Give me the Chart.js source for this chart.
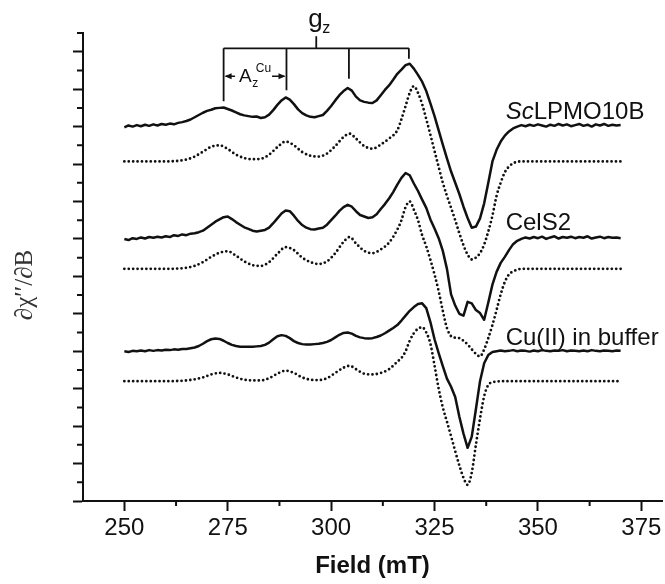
<!DOCTYPE html>
<html>
<head>
<meta charset="utf-8">
<script src="https://cdn.jsdelivr.net/npm/chart.js@4.4.0/dist/chart.umd.min.js"></script>
<style>
  html, body { margin: 0; padding: 0; background: #fff; }
  #chart { display: block; }
</style>
</head>
<body>
<canvas id="chart" width="665" height="584"></canvas>
<script>
// Field axis (mT) for the measured spectra, 1 mT steps
const fieldExp = [
  250, 251, 252, 253, 254, 255, 256, 257, 258, 259,
  260, 261, 262, 263, 264, 265, 266, 267, 268, 269,
  270, 271, 272, 273, 274, 275, 276, 277, 278, 279,
  280, 281, 282, 283, 284, 285, 286, 287, 288, 289,
  290, 291, 292, 293, 294, 295, 296, 297, 298, 299,
  300, 301, 302, 303, 304, 305, 306, 307, 308, 309,
  310, 311, 312, 313, 314, 315, 316, 317, 318, 319,
  320, 321, 322, 323, 324, 325, 326, 327, 328, 329,
  330, 331, 332, 333, 334, 335, 336, 337, 338, 339,
  340, 341, 342, 343, 344, 345, 346, 347, 348, 349,
  350, 351, 352, 353, 354, 355, 356, 357, 358, 359,
  360, 361, 362, 363, 364, 365, 366, 367, 368, 369,
  370
];

// Measured spectra (offset, arbitrary units)
const scExp = [
  9.98, 10.03, 10.0, 10.04, 10.01, 10.05, 10.02, 10.06, 10.03, 10.07,
  10.05, 10.08, 10.06, 10.1, 10.12, 10.15, 10.19, 10.25, 10.31, 10.37,
  10.42, 10.45, 10.49, 10.5, 10.51, 10.47, 10.43, 10.38, 10.33, 10.3,
  10.28, 10.26, 10.27, 10.23, 10.25, 10.32, 10.44, 10.58, 10.7, 10.78,
  10.72, 10.6, 10.46, 10.36, 10.3, 10.26, 10.25, 10.28, 10.31, 10.42,
  10.55, 10.7, 10.84, 10.95, 11.03, 10.96, 10.8, 10.7, 10.66, 10.64,
  10.63, 10.7, 10.84, 10.98, 11.1, 11.25, 11.41, 11.52, 11.64, 11.68,
  11.55, 11.38, 11.2, 10.95, 10.62, 10.28, 9.9, 9.52, 9.15, 8.8,
  8.5, 8.2, 7.86, 7.56, 7.3, 7.33, 7.55, 7.95, 8.5, 9.07,
  9.38, 9.6, 9.76, 9.87, 9.95, 10.0, 10.04, 10.01, 10.05, 10.02,
  10.06, 10.03, 10.0, 10.05, 10.02, 10.07, 10.03, 10.06, 10.01, 10.04,
  10.07, 10.02, 10.05, 10.0, 10.06, 10.03, 10.07, 10.02, 10.05, 10.03,
  10.04
];
const celExp = [
  7.0, 6.97, 7.02, 7.0, 7.04, 7.01, 7.05, 7.03, 7.06, 7.04,
  7.07, 7.05, 7.1, 7.08, 7.12, 7.1, 7.14, 7.15, 7.18, 7.22,
  7.3, 7.38, 7.46, 7.52, 7.58, 7.6, 7.53, 7.45, 7.38, 7.31,
  7.27, 7.22, 7.2, 7.22, 7.24, 7.3, 7.42, 7.55, 7.68, 7.76,
  7.74, 7.62, 7.48, 7.37, 7.3, 7.26, 7.25, 7.28, 7.3, 7.38,
  7.5, 7.62, 7.75, 7.85, 7.91, 7.86, 7.74, 7.64, 7.6, 7.56,
  7.58, 7.66, 7.8, 7.93, 8.08, 8.25, 8.45, 8.63, 8.76, 8.7,
  8.48, 8.28, 8.05, 7.83, 7.52, 7.28, 7.02, 6.68, 6.2, 5.52,
  5.22, 5.0, 4.95, 5.32, 5.28, 5.1, 5.02, 4.84, 5.3, 5.78,
  6.12, 6.36, 6.52, 6.7, 6.86, 6.95, 7.0, 7.04, 7.01, 7.05,
  7.02, 7.06, 7.0, 7.04, 7.07, 7.01, 7.05, 7.03, 7.06, 7.02,
  7.05, 7.03, 7.07, 7.01, 7.04, 7.06, 7.02, 7.05, 7.03, 7.04,
  7.02
];
const cuExp = [
  4.0, 3.98, 4.01, 4.0, 4.02, 4.0, 4.03, 4.01, 4.03, 4.02,
  4.04, 4.03, 4.05, 4.04, 4.06, 4.06, 4.08, 4.1, 4.14, 4.2,
  4.27, 4.32, 4.34, 4.33, 4.28, 4.22, 4.17, 4.14, 4.12, 4.12,
  4.12, 4.12, 4.13, 4.14, 4.17, 4.23, 4.32, 4.4, 4.43, 4.41,
  4.35, 4.27, 4.22, 4.19, 4.18, 4.18, 4.19, 4.2, 4.22, 4.25,
  4.3, 4.37, 4.44, 4.49, 4.5, 4.47, 4.41, 4.37, 4.35, 4.34,
  4.35, 4.38, 4.42, 4.48, 4.55, 4.62, 4.7, 4.82, 4.95, 5.08,
  5.18, 5.26, 5.28, 5.15, 4.78, 4.32, 3.95, 3.6, 3.27, 3.05,
  2.78, 2.25, 1.8, 1.42, 1.72, 2.45, 3.2, 3.68, 3.9, 3.98,
  4.0, 4.02, 4.0, 4.01, 4.03, 4.0, 4.02, 4.01, 3.99, 4.02,
  4.0, 4.03, 4.01, 4.0, 4.02, 4.01, 4.03, 4.0, 4.02, 4.01,
  4.0, 4.02, 4.0, 4.03, 4.01, 4.0, 4.02, 4.01, 4.0, 4.02,
  4.01
];

// Field axis (mT) for the simulated spectra
const fieldSim = [
  250, 260, 265, 267, 269, 271, 273, 275, 277, 279,
  281, 283, 285, 287, 289, 291, 293, 295, 297, 299,
  301, 303, 304.5, 306, 308, 310, 312, 314, 316, 317,
  318, 319, 320, 321, 322, 323, 324, 325, 326, 327,
  328, 329, 330, 331, 332, 333, 334, 335, 336, 337,
  338, 339, 340, 341, 342, 343, 344, 346, 348, 355,
  370
];
const scSim = [
  9.07, 9.07, 9.12, 9.2, 9.33, 9.46, 9.5, 9.4, 9.25, 9.16,
  9.13, 9.14, 9.25, 9.45, 9.6, 9.5, 9.32, 9.22, 9.2, 9.28,
  9.48, 9.72, 9.81, 9.68, 9.48, 9.41, 9.52, 9.68, 9.9, 10.2,
  10.55, 10.9, 11.08, 10.9, 10.6, 10.2, 9.78, 9.35, 8.92, 8.5,
  8.15, 7.83, 7.5, 7.15, 6.83, 6.58, 6.45, 6.5, 6.62, 6.85,
  7.2, 7.62, 8.15, 8.5, 8.78, 8.93, 9.02, 9.07, 9.07, 9.07,
  9.07
];
const celSim = [
  6.2, 6.2, 6.23, 6.28, 6.38, 6.52, 6.63, 6.67, 6.55, 6.4,
  6.3, 6.28, 6.38, 6.6, 6.78, 6.7, 6.5, 6.38, 6.33, 6.4,
  6.62, 6.92, 7.05, 6.88, 6.68, 6.62, 6.72, 6.9, 7.25, 7.5,
  7.85, 8.0, 7.78, 7.5, 7.1, 6.8, 6.44, 6.05, 5.6, 5.08,
  4.62, 4.4, 4.36, 4.35, 4.28, 4.18, 4.05, 3.93, 3.86, 4.05,
  4.35, 4.7, 5.1, 5.52, 5.85, 6.05, 6.13, 6.2, 6.2, 6.2,
  6.2
];
const cuSim = [
  3.2, 3.2, 3.22, 3.25, 3.3, 3.38, 3.42, 3.38, 3.3, 3.24,
  3.22, 3.22, 3.28, 3.4, 3.48, 3.42, 3.3, 3.24, 3.23, 3.28,
  3.42, 3.56, 3.61, 3.52, 3.4, 3.38, 3.42, 3.52, 3.72, 3.82,
  4.0, 4.28, 4.48, 4.6, 4.64, 4.5, 4.2, 3.62, 3.0, 2.5,
  2.12, 1.73, 1.33, 0.95, 0.62, 0.43, 0.76, 1.5, 2.2, 2.8,
  3.1, 3.17, 3.19, 3.2, 3.2, 3.2, 3.2, 3.2, 3.2, 3.2,
  3.2
];

// Axis ticks
const xMajorTicks = [250, 275, 300, 325, 350, 375];
const xMinorTicks = [262.5, 287.5, 312.5, 337.5, 362.5];
const yMajorTicks = [0, 1, 2, 3, 4, 5, 6, 7, 8, 9, 10, 11, 12];
const yMinorTicks = [0.5, 1.5, 2.5, 3.5, 4.5, 5.5, 6.5, 7.5, 8.5, 9.5, 10.5, 11.5, 12.5];

// g_z hyperfine marks (field, lower end of each mark)
const gzFields = [274, 289.2, 304.3, 318.8];
const gzEnds = [10.68, 10.97, 11.28, 11.81];
const gzBarLevel = 12.09;

const ink = "#111";
const sans = "'Liberation Sans', Arial, sans-serif";

function toPoints(xs, ys) {
  return xs.map((x, i) => ({ x: x, y: ys[i] }));
}

function solid(ys) {
  return {
    data: toPoints(fieldExp, ys),
    borderColor: ink,
    borderWidth: 2.5,
    borderJoinStyle: "round",
    pointRadius: 0,
    tension: 0,
    fill: false,
  };
}

function dotted(ys) {
  return {
    data: toPoints(fieldSim, ys),
    borderColor: ink,
    borderWidth: 2.8,
    borderDash: [0, 4.4],
    borderCapStyle: "round",
    pointRadius: 0,
    cubicInterpolationMode: "monotone",
    fill: false,
  };
}

function arrowHead(ctx, x, y, dir) {
  ctx.beginPath();
  ctx.moveTo(x, y);
  ctx.lineTo(x - dir * 7, y - 3);
  ctx.lineTo(x - dir * 7, y + 3);
  ctx.closePath();
  ctx.fill();
}

// Draws minor ticks, axis title and the text annotations
const extras = {
  id: "extras",
  afterDraw(chart) {
    const { ctx, scales: { x, y } } = chart;
    ctx.save();
    ctx.strokeStyle = ink;
    ctx.fillStyle = ink;
    ctx.lineWidth = 2;

    // minor ticks
    ctx.beginPath();
    for (const v of xMinorTicks) {
      const px = x.getPixelForValue(v);
      ctx.moveTo(px, y.bottom);
      ctx.lineTo(px, y.bottom + 5);
    }
    for (const v of yMinorTicks) {
      const py = y.getPixelForValue(v);
      ctx.moveTo(x.left, py);
      ctx.lineTo(x.left - 6, py);
    }
    ctx.stroke();

    // y axis title
    ctx.save();
    ctx.translate(25, (y.top + y.bottom) / 2 + 18);
    ctx.rotate(-Math.PI / 2);
    ctx.font = "25px 'Liberation Serif', 'Times New Roman', serif";
    ctx.fillStyle = "#333";
    ctx.textAlign = "center";
    ctx.textBaseline = "middle";
    ctx.fillText("\u2202\u03C7\u2032\u2032/\u2202B", 0, 0);
    ctx.restore();

    // g_z bracket
    const barY = y.getPixelForValue(gzBarLevel);
    const gx = gzFields.map(v => x.getPixelForValue(v));
    ctx.lineWidth = 1.8;
    ctx.beginPath();
    ctx.moveTo(gx[0], barY);
    ctx.lineTo(gx[gx.length - 1], barY);
    gx.forEach((px, i) => {
      ctx.moveTo(px, barY);
      ctx.lineTo(px, y.getPixelForValue(gzEnds[i]));
    });
    const mid = (gx[0] + gx[gx.length - 1]) / 2;
    ctx.moveTo(mid, barY);
    ctx.lineTo(mid, barY - 12);
    ctx.stroke();

    ctx.textBaseline = "alphabetic";
    ctx.textAlign = "left";
    ctx.font = "26px " + sans;
    ctx.fillText("g", mid - 8, barY - 21);
    ctx.font = "16px " + sans;
    ctx.fillText("z", mid + 6, barY - 15);

    // A_z^Cu with arrows between first two marks
    const ay = barY + 28;
    ctx.font = "19px " + sans;
    const wA = ctx.measureText("A").width;
    ctx.font = "12px " + sans;
    const wCu = ctx.measureText("Cu").width;
    const textW = wA + 4 + wCu;
    const tx = (gx[0] + gx[1]) / 2 - textW / 2;
    ctx.font = "19px " + sans;
    ctx.fillText("A", tx, ay + 6);
    ctx.font = "12px " + sans;
    ctx.fillText("z", tx + wA + 0.5, ay + 11);
    ctx.fillText("Cu", tx + wA + 4, ay - 4);
    ctx.lineWidth = 1.5;
    ctx.beginPath();
    ctx.moveTo(gx[0] + 2, ay);
    ctx.lineTo(tx - 4, ay);
    ctx.moveTo(tx + textW + 1, ay);
    ctx.lineTo(gx[1] - 2, ay);
    ctx.stroke();
    arrowHead(ctx, gx[0] + 1, ay, -1);
    arrowHead(ctx, gx[1] - 1, ay, 1);

    // curve labels
    const lx = x.getPixelForValue(342.2);
    const ly = y.getPixelForValue(10.21);
    ctx.font = "italic 24px " + sans;
    ctx.fillText("Sc", lx, ly);
    const wSc = ctx.measureText("Sc").width;
    ctx.font = "24px " + sans;
    ctx.fillText("LPMO10B", lx + wSc, ly);
    ctx.fillText("CelS2", lx, y.getPixelForValue(7.25));
    ctx.fillText("Cu(II) in buffer", lx, y.getPixelForValue(4.17));

    ctx.restore();
  }
};

new Chart(document.getElementById("chart"), {
  type: "line",
  data: {
    datasets: [
      solid(scExp), dotted(scSim),
      solid(celExp), dotted(celSim),
      solid(cuExp), dotted(cuSim),
    ],
  },
  options: {
    responsive: false,
    animation: false,
    devicePixelRatio: 1,
    layout: { padding: { top: 33, right: 3, left: 0, bottom: 0 } },
    plugins: {
      legend: { display: false },
      tooltip: { enabled: false },
    },
    scales: {
      x: {
        type: "linear",
        min: 240,
        max: 380,
        afterBuildTicks: (scale) => { scale.ticks = xMajorTicks.map(v => ({ value: v })); },
        afterFit: (scale) => { scale.height = 83; },
        ticks: { color: ink, font: { family: sans, size: 24 }, padding: 3, maxRotation: 0 },
        grid: { drawOnChartArea: false, drawTicks: true, tickLength: 10, tickWidth: 2, color: ink },
        border: { display: true, color: ink, width: 2 },
        title: {
          display: true,
          text: "Field (mT)",
          color: ink,
          font: { family: sans, size: 24, weight: "bold" },
          padding: { top: 0, bottom: 3 },
        },
      },
      y: {
        type: "linear",
        min: 0,
        max: 12.5,
        afterBuildTicks: (scale) => { scale.ticks = yMajorTicks.map(v => ({ value: v })); },
        afterFit: (scale) => { scale.width = 83; },
        ticks: { display: false },
        grid: { drawOnChartArea: false, drawTicks: true, tickLength: 10, tickWidth: 2, color: ink },
        border: { display: true, color: ink, width: 2 },
      },
    },
  },
  plugins: [extras],
});
</script>
</body>
</html>
